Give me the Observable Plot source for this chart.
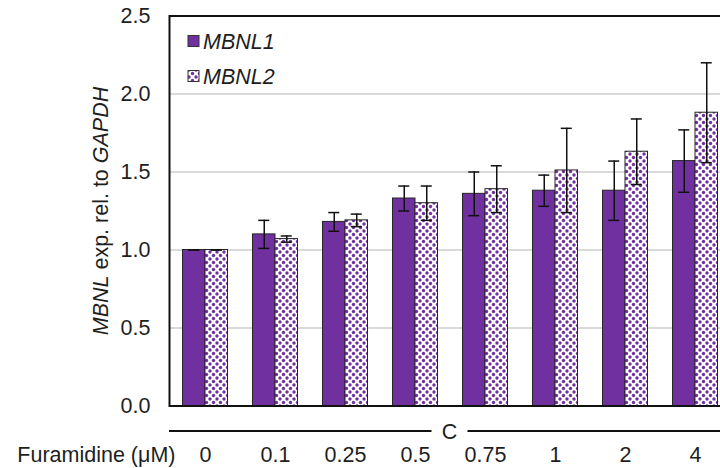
<!DOCTYPE html>
<html>
<head>
<meta charset="utf-8">
<script src="https://cdn.jsdelivr.net/npm/d3@7"></script>
<script src="https://cdn.jsdelivr.net/npm/@observablehq/plot@0.6"></script>
<style>
  html, body { margin: 0; padding: 0; background: white; overflow: hidden; }
  #chart { position: relative; width: 720px; height: 468px; }
</style>
</head>
<body>
<div id="chart"></div>
<script>
// ---- data ----
const categories = ["0", "0.1", "0.25", "0.5", "0.75", "1", "2", "4"];
const seriesNames = ["MBNL1", "MBNL2"];
const mbnl1 = [1.00, 1.10, 1.18, 1.33, 1.36, 1.38, 1.38, 1.57];
const mbnl1Err = [0.00, 0.09, 0.06, 0.08, 0.14, 0.10, 0.19, 0.20];
const mbnl2 = [1.00, 1.07, 1.19, 1.30, 1.39, 1.51, 1.63, 1.88];
const mbnl2Err = [0.00, 0.02, 0.04, 0.11, 0.15, 0.27, 0.21, 0.32];
const yTicks = [0, 0.5, 1.0, 1.5, 2.0, 2.5];
const gridTicks = [0.5, 1.0, 1.5, 2.0];
const xLabel = "Furamidine (μM)";
const groupLabel = "C";

const d1 = categories.map((c, i) => ({cat: c, v: mbnl1[i], e: mbnl1Err[i]}));
const d2 = categories.map((c, i) => ({cat: c, v: mbnl2[i], e: mbnl2Err[i]}));

const PURPLE = "#7030a0";
const PLACEHOLDER = "#7030a1";
const FONT = "'Liberation Sans', Arial, Helvetica, sans-serif";
const FS = 21.5;
const INK = "#1e1e1e";

const chart = Plot.plot({
  width: 720,
  height: 468,
  marginLeft: 169,
  marginRight: -10,
  marginTop: 15.5,
  marginBottom: 62.5,
  style: {fontFamily: FONT, fontSize: FS + "px", color: INK, background: "white"},
  x: {domain: categories, padding: 0, label: null},
  y: {domain: [0, 2.5], label: null},
  marks: [
    Plot.ruleY(gridTicks, {stroke: "#d9d9d9", strokeWidth: 2}),
    Plot.barY(d1, {x: "cat", y: "v", fill: PURPLE, stroke: "#262626", strokeWidth: 1, insetLeft: 12.5, insetRight: 35}),
    Plot.barY(d2, {x: "cat", y: "v", fill: PLACEHOLDER, stroke: "#262626", strokeWidth: 1, insetLeft: 35, insetRight: 12.5}),
    Plot.ruleX(d1, {x: "cat", y1: d => d.v - d.e, y2: d => d.v + d.e, dx: -11.25, stroke: "#111", strokeWidth: 1.5}),
    Plot.ruleX(d2, {x: "cat", y1: d => d.v - d.e, y2: d => d.v + d.e, dx: 11.25, stroke: "#111", strokeWidth: 1.5}),
    Plot.tickY(d1, {x: "cat", y: d => d.v + d.e, insetLeft: 18.25, insetRight: 40.75, stroke: "#111", strokeWidth: 1.5}),
    Plot.tickY(d1, {x: "cat", y: d => d.v - d.e, insetLeft: 18.25, insetRight: 40.75, stroke: "#111", strokeWidth: 1.5}),
    Plot.tickY(d2, {x: "cat", y: d => d.v + d.e, insetLeft: 40.75, insetRight: 18.25, stroke: "#111", strokeWidth: 1.5}),
    Plot.tickY(d2, {x: "cat", y: d => d.v - d.e, insetLeft: 40.75, insetRight: 18.25, stroke: "#111", strokeWidth: 1.5}),
    Plot.frame({stroke: "#111", strokeWidth: 2}),
    Plot.ruleY([0], {dy: 25, stroke: "#111", strokeWidth: 2}),
    Plot.axisY({ticks: yTicks, tickSize: 0, tickPadding: 19, tickFormat: d3.format(".1f"), fontSize: FS, fill: INK, label: null}),
    Plot.axisX({tickSize: 0, tickPadding: 41, fontSize: FS, fill: INK, label: null}),
    Plot.text([xLabel], {frameAnchor: "bottom-left", dx: 6, dy: 41, text: d => d, textAnchor: "end", lineAnchor: "top", fill: INK, fontSize: FS})
  ]
});

const svg = d3.select(chart);
// pattern for MBNL2
const defs = svg.insert("defs", ":first-child");
const T = 7, R = 1.7;
const pat = defs.append("pattern").attr("id", "mbnl2pat").attr("patternUnits", "userSpaceOnUse")
  .attr("width", T).attr("height", T);
pat.append("rect").attr("width", T).attr("height", T).attr("fill", "white");
[[0, 0], [T, 0], [0, T], [T, T], [T / 2, T / 2]].forEach(([cx, cy]) =>
  pat.append("circle").attr("cx", cx).attr("cy", cy).attr("r", R).attr("fill", PURPLE));
svg.selectAll(`[fill="${PLACEHOLDER}"]`).attr("fill", "url(#mbnl2pat)");

// group label "C" breaking the lower line (white knockout behind text)
const cx = (169 + 730) / 2;
svg.append("rect").attr("x", cx - 18).attr("y", 420).attr("width", 36).attr("height", 22).attr("fill", "white");
svg.append("text").attr("x", cx).attr("y", 439).attr("text-anchor", "middle")
  .attr("font-family", FONT).attr("font-size", FS).attr("fill", INK).text(groupLabel);

// y-axis title with italic gene names
const yt = svg.append("text")
  .attr("transform", "translate(108,211) rotate(-90)")
  .attr("text-anchor", "middle")
  .attr("font-family", FONT)
  .attr("font-size", FS)
  .attr("fill", INK);
yt.append("tspan").attr("font-style", "italic").text("MBNL");
yt.append("tspan").text(" exp. rel. to ");
yt.append("tspan").attr("font-style", "italic").text("GAPDH");

// legend inside plot area
const leg = svg.append("g").attr("font-family", FONT).attr("font-size", FS).attr("fill", INK)
  .attr("text-anchor", "start");
const legendFills = [PURPLE, "url(#mbnl2pat)"];
seriesNames.forEach((name, i) => {
  const y0 = 35.5 + i * 35;
  leg.append("rect").attr("x", 188).attr("y", y0).attr("width", 11).attr("height", 11)
    .attr("fill", legendFills[i]).attr("stroke", "#333").attr("stroke-width", 1);
  leg.append("text").attr("x", 203).attr("y", y0 + 13).attr("text-anchor", "start")
    .attr("font-style", "italic").text(name);
});

document.getElementById("chart").appendChild(chart);
</script>
</body>
</html>
